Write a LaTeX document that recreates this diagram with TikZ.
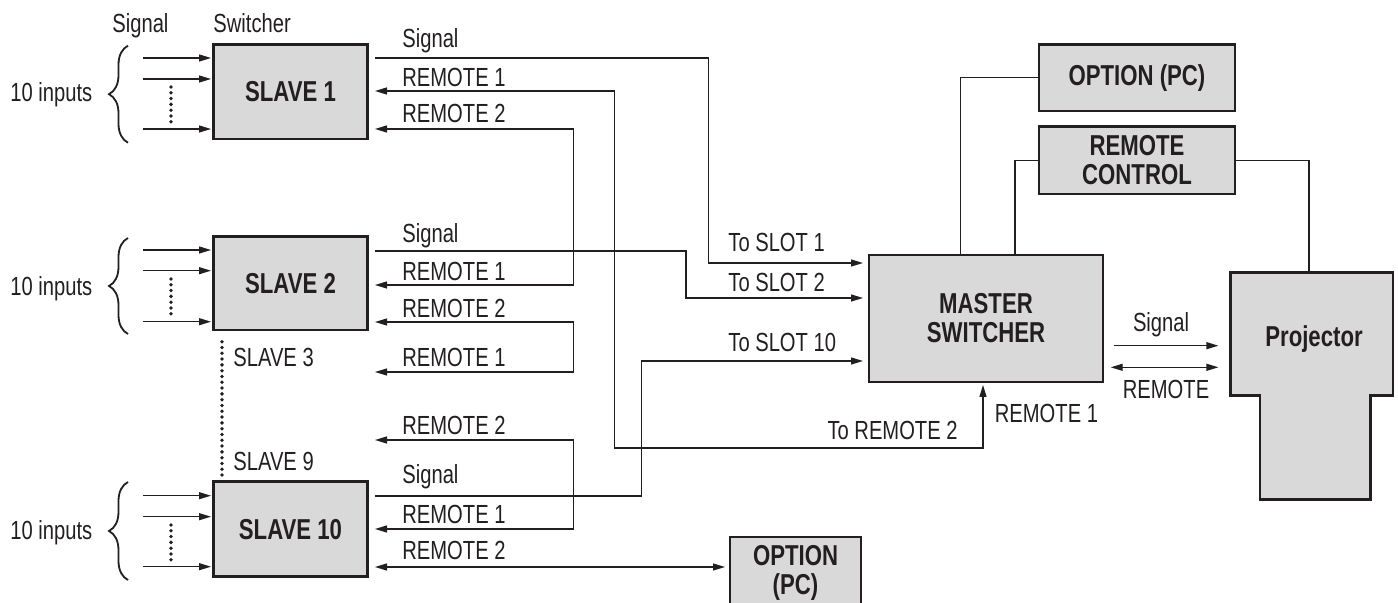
\documentclass[tikz,border=0pt]{standalone}
\usepackage{fontspec}
\setmainfont{Liberation Sans}[FakeStretch=0.77]
\usetikzlibrary{arrows.meta,decorations.pathreplacing}
\definecolor{ink}{RGB}{35,31,32}
\definecolor{boxgray}{RGB}{217,217,217}
\newcommand\lblfont{\fontsize{13.1pt}{14pt}\selectfont}
\newcommand\boxfont{\fontsize{14.4pt}{14.5pt}\selectfont\bfseries}
\tikzset{
  ln/.style={line width=0.6pt, draw=ink},
  arr/.style={ln, -{Triangle[length=6pt,width=3.5pt]}},
  darr/.style={ln, {Triangle[length=6pt,width=3.5pt]}-{Triangle[length=6pt,width=3.5pt]}},
  box/.style={draw=ink, line width=1.4pt, fill=boxgray, inner sep=0pt, outer sep=0pt, align=center, font=\boxfont, text=ink},
  boxline/.style={draw=ink, line width=1.4pt, fill=boxgray, line join=miter},
  btxt/.style={inner sep=0pt, align=center, font=\boxfont, text=ink},
  lbl/.style={anchor=base west, inner sep=0pt, font=\lblfont, text=ink},
  lble/.style={anchor=base east, inner sep=0pt, font=\lblfont, text=ink},
  dots/.style={draw=ink, line width=1.9pt, line cap=round, dash pattern=on 0pt off 2.9pt},
  bracestyle/.style={draw=ink, line width=0.9pt, decorate, decoration={brace, amplitude=9.5pt}}
}
\begin{document}
\begin{tikzpicture}[x=0.5pt,y=-0.5pt]
\useasboundingbox (0,0) rectangle (1398,603);
\clip (0,0) rectangle (1398,603);

% ---------- boxes ----------
\node[box, minimum width=77.2pt, minimum height=47.3pt] (s1) at (290.5,91.7) {SLAVE 1};
\node[box, minimum width=77.2pt, minimum height=46.7pt] (s2) at (290.5,283.3) {SLAVE 2};
\node[box, minimum width=77.2pt, minimum height=47.5pt] (s10) at (290.5,529.2) {SLAVE 10};
\node[box, minimum width=117pt, minimum height=63.5pt] (master) at (986,318.5) {MASTER\\SWITCHER};
\node[box, minimum width=98pt, minimum height=33.3pt] (optTop) at (1137,77.7) {OPTION (PC)};
\node[box, minimum width=98pt, minimum height=33.7pt] (rc) at (1137,160.3) {REMOTE\\CONTROL};
\node[box, minimum width=65.5pt, minimum height=36pt] (optBot) at (795.5,573) {OPTION\\(PC)};

% projector
\path[boxline] (1230.6,272.3) -- (1393,272.3) -- (1393,395.7) -- (1370.4,395.7) -- (1370.4,499.3)
  -- (1260,499.3) -- (1260,395.7) -- (1230.6,395.7) -- cycle;
\node[btxt] (proj) at (1314,339) {Projector};
\coordinate (pt) at (1309,272.3);

% ---------- top labels ----------
\node[lbl] (hsig) at (112,32.5) {Signal};
\node[lbl] (hsw) at (213,32.5) {Switcher};

% ---------- inputs ----------
\foreach \b/\ya/\yb/\yc/\da/\db/\bra/\brb/\tb in
  {s1/58/79/129/87/124/45.7/142.7/101.5,
   s2/250/270.7/321.7/279/316.7/238/334/296,
   s10/495.7/516.7/566.7/525/561.7/482/580/540}{
  \foreach \y [count=\i] in {\ya,\yb,\yc}{
    \coordinate (\b in\i) at (143,\y);
    \coordinate (\b pin\i) at (211,\y);
    \draw[arr] (\b in\i) -- (\b pin\i);
  }
  \draw[dots] (171,\da) -- (171,\db);
  \draw[bracestyle] (128,\brb) -- (128,\bra);
  \node[lbl] (\b lab) at (10,\tb) {10 inputs};
}

% slaves 3..9
\draw[dots] (222,341.7) -- (222,476.7);
\node[lbl] (sl3) at (233,366.7) {SLAVE 3};
\node[lbl] (sl9) at (233,470.7) {SLAVE 9};

% ---------- ports ----------
\coordinate (s1sig) at (375,58);
\coordinate (s1r1) at (375,91);
\coordinate (s1r2) at (375,129);
\coordinate (s2sig) at (375,251);
\coordinate (s2r1) at (375,285);
\coordinate (s2r2) at (375,322);
\coordinate (s3r1) at (375,372);
\coordinate (s9r2) at (375,440);
\coordinate (s10sig) at (375,496);
\coordinate (s10r1) at (375,529);
\coordinate (s10r2) at (375,567);
\coordinate (obp) at (725,567);
\coordinate (ms1) at (863,263);
\coordinate (ms2) at (863,298);
\coordinate (ms10) at (863,361);
\coordinate (mr1) at (983,385);
\coordinate (mt1) at (960.5,255);
\coordinate (mt2) at (1015,255);
\coordinate (msig) at (1113.6,345.7);
\coordinate (psig) at (1218.4,345.7);
\coordinate (mrem) at (1110.7,367.3);
\coordinate (prem) at (1218.4,367.3);

% ---------- connectors ----------
\draw[arr] (s1sig) -| (708.3,263) -- (ms1);
\draw[darr] (s1r1) -| (614.3,448) -| (mr1);
\draw[darr] (s1r2) -| (573.3,285) -- (s2r1);
\draw[arr] (s2sig) -| (686,298) -- (ms2);
\draw[darr] (s2r2) -| (573.3,372) -- (s3r1);
\draw[darr] (s9r2) -| (573.3,529) -- (s10r1);
\draw[arr] (s10sig) -| (641.7,361) -- (ms10);
\draw[darr] (s10r2) -- (obp);
\draw[ln] (optTop.west) -| (mt1);
\draw[ln] (rc.west) -| (mt2);
\draw[ln] (rc.east) -| (pt);
\draw[arr] (msig) -- (psig);
\draw[darr] (mrem) -- (prem);

% ---------- connector labels ----------
\node[lbl] (l1) at (402,48) {Signal};
\node[lbl] (l2) at (402,86.7) {REMOTE 1};
\node[lbl] (l3) at (402,123) {REMOTE 2};
\node[lbl] (l4) at (402,243) {Signal};
\node[lbl] (l5) at (402,281) {REMOTE 1};
\node[lbl] (l6) at (402,318) {REMOTE 2};
\node[lbl] (l7) at (402,367) {REMOTE 1};
\node[lbl] (l8) at (402,435) {REMOTE 2};
\node[lbl] (l9) at (402,484) {Signal};
\node[lbl] (l10) at (402,524) {REMOTE 1};
\node[lbl] (l11) at (402,560) {REMOTE 2};
\node[lbl] (t1) at (728,252) {To SLOT 1};
\node[lbl] (t2) at (728,292) {To SLOT 2};
\node[lbl] (t10) at (728,352) {To SLOT 10};
\node[lble] (tr2) at (958,440) {To REMOTE 2};
\node[lbl] (mr1l) at (994.5,423) {REMOTE 1};
\node[lbl] (psl) at (1132.6,331.7) {Signal};
\node[lbl] (prl) at (1122.5,399) {REMOTE};
\end{tikzpicture}
\end{document}
